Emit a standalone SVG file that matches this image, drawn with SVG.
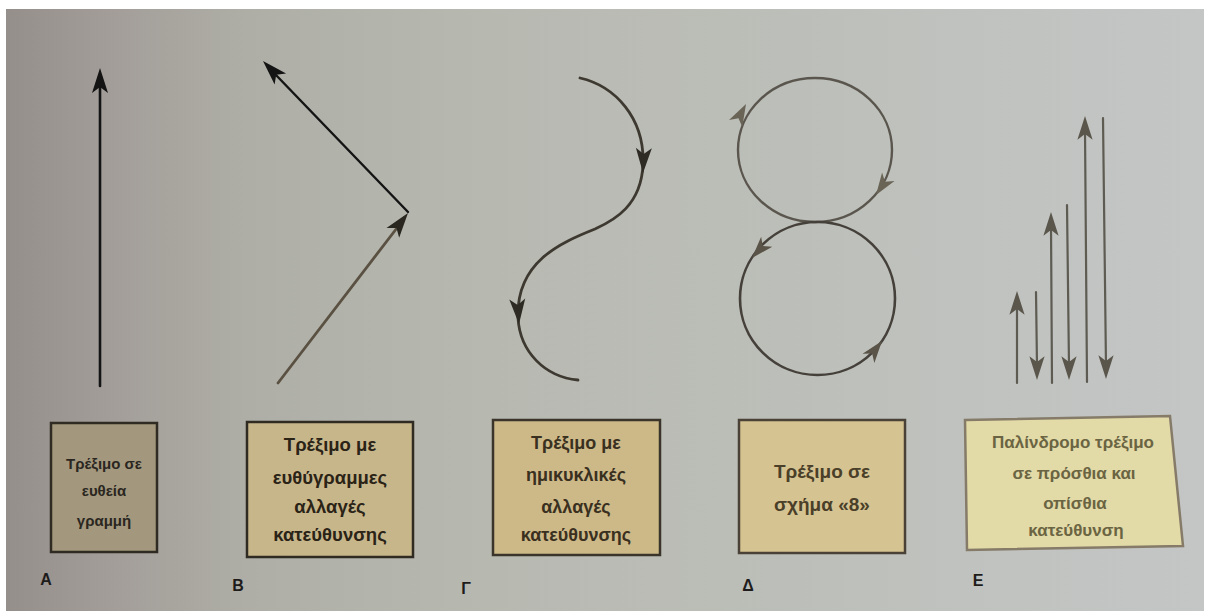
<svg xmlns="http://www.w3.org/2000/svg" width="1209" height="611" viewBox="0 0 1209 611">
<defs>
<linearGradient id="bg" x1="0" y1="0" x2="1" y2="0">
<stop offset="0" stop-color="#958f8c"/>
<stop offset="0.08" stop-color="#a29c98"/>
<stop offset="0.2" stop-color="#aeaea6"/>
<stop offset="0.4" stop-color="#b7b9b1"/>
<stop offset="0.6" stop-color="#bbbdb7"/>
<stop offset="0.8" stop-color="#bfc2be"/>
<stop offset="1" stop-color="#c3c6c5"/>
</linearGradient>
<path id="ah" d="M0,0 L-25,-8 L-19,0 L-25,8 Z"/>
<path id="ahs" d="M0,0 L-22,-7.5 L-16,0 L-22,7.5 Z"/>
<style>
.box text{font-family:"Liberation Sans",Arial,sans-serif;font-weight:bold;text-anchor:middle;}
.lbl{font-family:"Liberation Sans",Arial,sans-serif;font-weight:bold;font-size:16px;fill:#1e1c1a;text-anchor:middle;}
.ln{fill:none;stroke-linecap:round;}
</style>
</defs>
<rect x="0" y="0" width="1209" height="611" fill="#ffffff"/>
<rect x="6" y="9" width="1198" height="602" fill="url(#bg)"/>

<g id="connectors">
  <!-- A -->
  <line class="ln" x1="100" y1="386" x2="100" y2="85" stroke="#141414" stroke-width="2.6"/>
  <use href="#ah" transform="translate(100,68) rotate(-90)" fill="#141414"/>
  <!-- B -->
  <line class="ln" x1="278" y1="383" x2="400" y2="224" stroke="#5a5142" stroke-width="2.8"/>
  <use href="#ah" transform="translate(408,213) rotate(-52.6)" fill="#2a2620"/>
  <line class="ln" x1="408" y1="212" x2="275" y2="74" stroke="#141414" stroke-width="2.4"/>
  <use href="#ah" transform="translate(263,61) rotate(-134)" fill="#141414"/>
  <!-- Γ -->
  <path class="ln" d="M580,78 C615,86 645,118 643,165 C641,205 615,220 595,229 C560,243 516,262 518,318 C520,352 545,377 578,380" stroke="#3e3930" stroke-width="2.8"/>
  <use href="#ah" transform="translate(643,173) rotate(92)" fill="#2e2a24"/>
  <use href="#ah" transform="translate(519,324) rotate(86)" fill="#2e2a24"/>
  <!-- Δ -->
  <ellipse class="ln" cx="815" cy="150" rx="77" ry="72" stroke="#5a564e" stroke-width="2.4"/>
  <ellipse class="ln" cx="817.5" cy="298.5" rx="77.5" ry="76.5" stroke="#45413a" stroke-width="2.6"/>
  <use href="#ahs" transform="translate(746,104) rotate(-62)" fill="#6a6456"/>
  <use href="#ahs" transform="translate(876,195) rotate(124)" fill="#6a6456"/>
  <use href="#ahs" transform="translate(752,258) rotate(132)" fill="#5a5448"/>
  <use href="#ahs" transform="translate(882,341) rotate(-52)" fill="#5a5448"/>
  <!-- Ε -->
  <g stroke="#5e5b52" stroke-width="2.2" class="ln">
    <line x1="1017" y1="383" x2="1017" y2="305"/>
    <line x1="1036" y1="292" x2="1037" y2="366"/>
    <line x1="1052" y1="383" x2="1051" y2="226"/>
    <line x1="1067" y1="205" x2="1069" y2="366"/>
    <line x1="1087" y1="382" x2="1085" y2="130"/>
    <line x1="1103" y1="118" x2="1106" y2="366"/>
  </g>
  <g fill="#5a564c">
    <use href="#ah" transform="translate(1017,291) rotate(-90) scale(0.95)"/>
    <use href="#ah" transform="translate(1037,380) rotate(90) scale(0.95)"/>
    <use href="#ah" transform="translate(1051,212) rotate(-90) scale(0.95)"/>
    <use href="#ah" transform="translate(1069,380) rotate(90) scale(0.95)"/>
    <use href="#ah" transform="translate(1085,116) rotate(-90) scale(0.95)"/>
    <use href="#ah" transform="translate(1106,379) rotate(90) scale(0.95)"/>
  </g>
</g>

<g id="nodeA" class="box">
  <rect x="51" y="423" width="106" height="129" fill="#a3987d" stroke="#2f2a22" stroke-width="2.5"/>
  <g font-size="15" fill="#2a261f">
    <text x="104" y="469">Τρέξιμο σε</text>
    <text x="104" y="496">ευθεία</text>
    <text x="104" y="526">γραμμή</text>
  </g>
</g>
<g id="nodeB" class="box">
  <rect x="247" y="422" width="166" height="135" fill="#c8b68b" stroke="#2f2a22" stroke-width="2.5"/>
  <g font-size="18.5" fill="#2a2316">
    <text x="330" y="451">Τρέξιμο με</text>
    <text x="330" y="484">ευθύγραμμες</text>
    <text x="330" y="513">αλλαγές</text>
    <text x="330" y="541">κατεύθυνσης</text>
  </g>
</g>
<g id="nodeC" class="box">
  <rect x="493" y="420" width="167" height="135" fill="#cdb988" stroke="#3a342a" stroke-width="2.5"/>
  <g font-size="18" fill="#3a3020">
    <text x="576" y="449">Τρέξιμο με</text>
    <text x="576" y="481">ημικυκλικές</text>
    <text x="576" y="513">αλλαγές</text>
    <text x="576" y="541">κατεύθυνσης</text>
  </g>
</g>
<g id="nodeD" class="box">
  <rect x="739" y="420" width="166" height="133" fill="#d6c392" stroke="#4a4236" stroke-width="2.5"/>
  <g font-size="19" fill="#4a3f28">
    <text x="822" y="478">Τρέξιμο σε</text>
    <text x="822" y="511">σχήμα «8»</text>
  </g>
</g>
<g id="nodeE" class="box">
  <polygon points="965,420 1170,416 1183,546 967,550" fill="#e2daa7" stroke="#857b68" stroke-width="2.5"/>
  <g font-size="17" fill="#6a6442">
    <text x="1073" y="448">Παλίνδρομο τρέξιμο</text>
    <text x="1074" y="479">σε πρόσθια και</text>
    <text x="1075" y="509">οπίσθια</text>
    <text x="1076" y="536">κατεύθυνση</text>
  </g>
</g>

<g id="labels">
  <text class="lbl" x="46" y="585">Α</text>
  <text class="lbl" x="238" y="591">Β</text>
  <text class="lbl" x="466" y="594">Γ</text>
  <text class="lbl" x="748" y="591">Δ</text>
  <text class="lbl" x="978" y="586">Ε</text>
</g>
</svg>
